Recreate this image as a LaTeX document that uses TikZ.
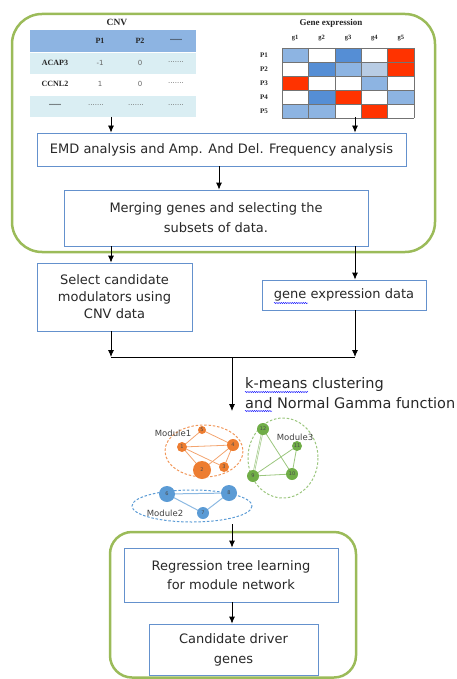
\documentclass[tikz,border=0pt]{standalone}
\usepackage{fontspec}
\setmainfont{DejaVu Sans}
\newfontfamily\serifb{Liberation Serif}
\usetikzlibrary{arrows.meta,decorations.pathmorphing,backgrounds}
\definecolor{grn}{RGB}{155,187,89}
\definecolor{boxc}{RGB}{100,145,205}
\definecolor{txt}{RGB}{40,40,40}
\definecolor{hb}{RGB}{85,142,213}
\definecolor{hm}{RGB}{141,180,226}
\definecolor{hl}{RGB}{184,204,228}
\definecolor{hr}{RGB}{255,51,0}
\definecolor{tl}{RGB}{218,238,243}
\definecolor{org}{RGB}{237,125,49}
\definecolor{mg}{RGB}{112,173,71}
\definecolor{mb}{RGB}{91,155,213}
\begin{document}
\begin{tikzpicture}[x=1pt,y=-1pt,
  stepbox/.style={draw=boxc, line width=0.8pt, fill=white, text=txt, align=center,
    font=\fontsize{13}{18.5}\selectfont, inner sep=0pt},
  arr/.style={-{Latex[length=7pt,width=6pt]}, line width=0.8pt},
  frame/.style={draw=grn, line width=2.5pt},
  tb/.style={font=\serifb\bfseries\fontsize{8}{9}\selectfont, text=black!85},
  tv/.style={font=\fontsize{7}{8}\selectfont, text=black!60},
  nd/.style={circle, inner sep=0pt, font=\fontsize{5}{6}\selectfont, text=black!70},
  modl/.style={font=\fontsize{8.5}{9}\selectfont, text=black!75},
  spell/.style={draw=blue, line width=0.4pt, decorate, decoration={snake, amplitude=0.6pt, segment length=2.2pt}}]
\useasboundingbox (0,0) rectangle (456,679);
% top frame
\draw[frame, rounded corners=30pt] (12,14) rectangle (435,252);
% CNV table
\node[tb, font=\serifb\bfseries\fontsize{9.5}{10}\selectfont] (cnvt) at (117,22) {CNV};
\fill[hm] (30,30) rectangle (196,52);
\fill[tl] (30,53) rectangle (196,74);
\fill[tl] (30,96) rectangle (196,117);
\node[tb] (h1) at (100,41) {P1};
\node[tb] (h2) at (140,41) {P2};
\node[tb] (h3) at (176,40) {......};
\node[tb] (r1) at (55,63) {ACAP3};
\node[tv] (v11) at (100,63) {-1};
\node[tv] (v12) at (140,63) {0};
\node[tv] (v13) at (176,62) {.......};
\node[tb] (r2) at (55,84) {CCNL2};
\node[tv] (v21) at (100,84) {1};
\node[tv] (v22) at (140,84) {0};
\node[tv] (v23) at (176,83) {.......};
\node[tb] (r3) at (55,105) {......};
\node[tv] (v31) at (96,105) {.......};
\node[tv] (v32) at (136,105) {.......};
\node[tv] (v33) at (176,105) {.......};
\coordinate (cnvb) at (111,117);
% gene expression heatmap
\node[tb, font=\serifb\bfseries\fontsize{9}{10}\selectfont] (gt) at (331,23) {Gene expression};
\foreach \g [count=\k from 0] in {g1,g2,g3,g4,g5}
  \node[tb, font=\serifb\bfseries\fontsize{6.5}{7}\selectfont] at (295.2+26.4*\k,38) {\g};
\foreach \p [count=\r from 0] in {P1,P2,P3,P4,P5}
  \node[tb, font=\serifb\bfseries\fontsize{7}{8}\selectfont] at (264,55+14*\r) {\p};
\foreach \row [count=\r from 0] in {{hm,white,hb,white,hr},{white,hb,hm,hl,hr},{hr,white,white,hm,white},{white,hb,hr,white,hm},{hm,hm,white,hr,white}}
  {\foreach \c [count=\k from 0] in \row
     {\fill[\c] (282+26.4*\k,48+14*\r) rectangle ++(26.4,14);}}
\foreach \k in {0,...,5} \draw[black!55, line width=0.6pt] (282+26.4*\k,48) -- ++(0,70);
\foreach \r in {0,...,5} \draw[black!55, line width=0.6pt] (282,48+14*\r) -- ++(132,0);
\coordinate (gexb) at (355,117);
% boxes
\node[stepbox, minimum width=369pt, minimum height=33pt] (emd) at (221.5,149.5)
  {EMD analysis and Amp. And Del. Frequency analysis};
\node[stepbox, minimum width=304pt, minimum height=56pt, font=\fontsize{13}{20}\selectfont] (merge) at (216,218)
  {Merging genes and selecting the\\subsets of data.};
\node[stepbox, minimum width=155pt, minimum height=68pt, font=\fontsize{13}{17}\selectfont] (sel) at (114.5,297)
  {Select candidate\\modulators using\\CNV data};
\node[stepbox, minimum width=164pt, minimum height=30pt] (gexp) at (344,295)
  {gene expression data};
\draw[arr] (cnvb) -- (cnvb |- emd.north);
\draw[arr] (gexb) -- (gexb |- emd.north);
\draw[arr] (emd.south -| 219,0) -- (merge.north -| 219,0);
\coordinate (xl) at (111,0);
\coordinate (xr) at (355,0);
\coordinate (join) at (232,357);
\draw[arr] (xl |- merge.south) -- (xl |- sel.north);
\draw[arr] (xr |- merge.south) -- (xr |- gexp.north);
\draw[arr] (xl |- sel.south) -- (xl |- join);
\draw[arr] (xr |- gexp.south) -- (xr |- join);
\draw[line width=0.8pt] (xl |- join) -- (xr |- join);
\coordinate (nettop) at (232,411);
\draw[arr] (join) -- (nettop);
\node[anchor=west, align=left, text=txt, font=\fontsize{14.5}{19.5}\selectfont, inner sep=0pt] (km) at (245,393)
  {k-means clustering\\and Normal Gamma function};
\draw[spell] (245,392) -- (308,392);
\draw[spell] (245,411) -- (272,411);
\draw[spell] (274,303) -- (308,303);
% network
\draw[org!80, line width=1pt, dash pattern=on 2.5pt off 1.8pt] (204,451) ellipse [x radius=39, y radius=26];
\draw[mg!70, line width=1pt, dash pattern=on 2.5pt off 1.8pt] (283,458) ellipse [x radius=35, y radius=40];
\draw[mb, line width=1pt, dash pattern=on 2.5pt off 1.8pt] (192,506) ellipse [x radius=60, y radius=16];
\node[nd, fill=org, minimum size=8pt] (n5) at (202,430) {5};
\node[nd, fill=org, minimum size=10pt] (n1) at (182,447) {1};
\node[nd, fill=org, minimum size=12pt] (n4) at (233,445) {4};
\node[nd, fill=org, minimum size=18pt] (n2) at (202,470) {2};
\node[nd, fill=org, minimum size=10pt] (n3) at (224,467) {3};
\node[nd, fill=mg, minimum size=12pt] (n12) at (263,429) {12};
\node[nd, fill=mg, minimum size=10pt] (n11) at (297,446) {11};
\node[nd, fill=mg, minimum size=12pt] (n9) at (253,476) {9};
\node[nd, fill=mg, minimum size=12pt] (n10) at (292,474) {10};
\node[nd, fill=mb, minimum size=16pt] (n6) at (167,494) {6};
\node[nd, fill=mb, minimum size=16pt] (n8) at (229,493) {8};
\node[nd, fill=mb, minimum size=12pt] (n7) at (203,513) {7};
\begin{pgfonlayer}{background}
\foreach \a/\b in {n5/n1,n5/n4,n1/n4,n1/n2,n1/n3,n4/n2,n4/n3}
  \draw[org!70, line width=0.8pt] (\a.center) -- (\b.center);
\draw[mg!60, line width=2pt] (n12.center) -- (n9.center);
\draw[white, line width=0.5pt] (n12.center) -- (n9.center);
\foreach \a/\b in {n12/n10,n9/n11,n11/n10,n9/n10}
  \draw[mg!70, line width=0.8pt] (\a.center) -- (\b.center);
\foreach \a/\b in {n6/n8,n6/n7,n7/n8}
  \draw[mb!70, line width=1pt] (\a.center) -- (\b.center);
\end{pgfonlayer}
\node[modl] (m1) at (173,433) {Module1};
\node[modl] (m3) at (295,437) {Module3};
\node[modl] (m2) at (165,513) {Module2};
% bottom frame
\draw[frame, rounded corners=22pt] (110,532) rectangle (356,677.5);
\node[stepbox, minimum width=214pt, minimum height=54pt] (reg) at (231,575)
  {Regression tree learning\\for module network};
\node[stepbox, minimum width=169pt, minimum height=51pt, font=\fontsize{13}{20}\selectfont] (cand) at (233.5,649.5)
  {Candidate driver\\genes};
\coordinate (nb) at (232,524);
\draw[arr] (nb) -- (nb |- reg.north);
\draw[arr] (reg.south -| 232,0) -- (cand.north -| 232,0);
\end{tikzpicture}
\end{document}
